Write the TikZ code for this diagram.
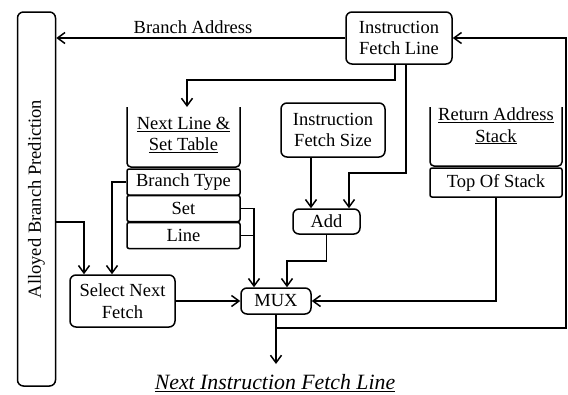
\documentclass[tikz,border=0pt]{standalone}
\usepackage{fontspec}
\setmainfont{Liberation Serif}
\usetikzlibrary{arrows.meta}
\begin{document}
\begin{tikzpicture}[x=1pt,y=-1pt, line width=1.5pt,
  txt/.style={font=\fontsize{18.5}{21.5}\selectfont, align=center, inner sep=0pt},
  box/.style={txt, draw, rounded corners=6pt},
  cell/.style={txt, draw, rounded corners=2pt, minimum width=113pt, minimum height=26pt},
  arr/.style={-{Straight Barb[length=7.5pt,width=11pt,line width=1.5pt]}}]
\useasboundingbox (0,0) rectangle (568,394);
% Alloyed branch prediction
\node[draw, rounded corners=6pt, minimum width=38pt, minimum height=374pt, inner sep=0pt] (abp) at (36.5,199) {};
\node[txt, rotate=90] (abptext) at (abp.center) {Alloyed Branch Prediction};
% main boxes
\node[box, minimum width=106pt, minimum height=52pt] (ifl) at (399,38) {Instruction\\Fetch Line};
\node[box, minimum width=104pt, minimum height=54pt] (ifs) at (333,130) {Instruction\\Fetch Size};
\node[box, minimum width=67pt, minimum height=25pt] (add) at (326.5,221.5) {Add};
\node[box, minimum width=70pt, minimum height=26pt] (mux) at (276,301) {MUX};
\node[box, minimum width=105pt, minimum height=52pt] (snf) at (122.5,301) {Select Next\\Fetch};
% next line & set table
\draw[rounded corners=4pt] (127,107) -- (127,167) -- (240,167) -- (240,107);
\node[txt] (nlst) at (183.5,135) {\underline{Next Line \&}\\\underline{Set Table}};
\coordinate (nltop) at (187,107);
\node[cell] (bt) at (183.5,182) {Branch Type};
\node[cell] (set) at (183.5,208.5) {Set};
\node[cell] (line) at (183.5,235.5) {Line};
% return address stack
\draw[rounded corners=4pt] (430,107) -- (430,166) -- (562,166) -- (562,107);
\node[txt] (ras) at (496,126) {\underline{Return Address}\\\underline{Stack}};
\node[cell, minimum width=132pt, minimum height=29pt] (tos) at (496,182.5) {Top Of Stack};
% caption
\node[font=\fontsize{21.8}{24}\itshape, inner sep=0pt] (cap) at (275,383) {\underline{Next Instruction Fetch Line}};
\node[txt] (ba) at (193,27) {Branch Address};
% coordinates
\coordinate (muxin1) at ([xshift=-22pt]mux.north);
\coordinate (muxin2) at ([xshift=11pt]mux.north);
\coordinate (addin1) at ([xshift=-15.5pt]add.north);
\coordinate (addin2) at ([xshift=22.5pt]add.north);
\coordinate (snfin1) at ([xshift=-38.5pt]snf.north);
\coordinate (snfin2) at ([xshift=-10.5pt]snf.north);
\coordinate (outend) at (276,364);
\coordinate (fb) at (276,328);
\coordinate (rc) at (566,328);
% connectors
\draw[arr] (ifl.west) -- (ifl.west -| abp.east);
\draw[arr] ([xshift=-4pt]ifl.south) -- ++(0,15) -| (nltop);
\draw[arr] ([xshift=7pt]ifl.south) -- ++(0,108) -| (addin2);
\draw[arr] (addin1 |- ifs.south) -- (addin1);
\draw[arr] (add.south) -- ++(0,26) -| (muxin2);
\draw[arr] (set.east) -| (muxin1);
\draw (line.east) -- (line.east -| muxin1);
\draw[arr] (bt.west) -| (snfin2);
\draw[arr] (abp.east |- line.north) -| (snfin1);
\draw[arr] (snf.east) -- (mux.west);
\draw[arr] (tos.south) |- (mux.east);
\draw[arr] (mux.south) -- (outend);
\draw[arr] (fb) -- (rc) |- (ifl.east);
\end{tikzpicture}
\end{document}
